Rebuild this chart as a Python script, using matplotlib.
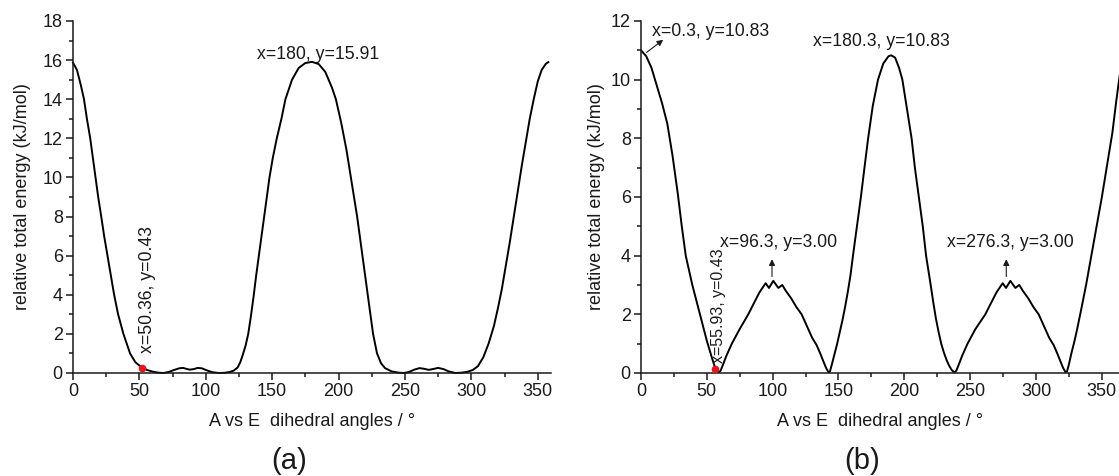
"""
Relative total energy vs A-E dihedral angle, panels (a) and (b).
"""

import matplotlib.pyplot as plt
from matplotlib.ticker import MultipleLocator

plt.rcParams['font.family'] = ['Liberation Sans', 'DejaVu Sans']

# panel (a) scan
a_angle = [0, 3, 6, 8.3, 10.5, 13, 15, 17, 19, 21.3, 23.5, 26, 28.5, 31, 34, 38, 43, 47,
           52, 56, 60, 64, 68, 72, 76, 80, 83, 86, 88, 91, 94, 97, 101, 105, 110, 114,
           118, 121, 124, 126, 128, 130, 132, 134, 136, 138, 140, 142, 144, 146, 148,
           150.5, 153.5, 157, 160, 165, 170, 175, 180, 185, 190, 195, 198, 202, 206,
           210, 214, 218, 222, 226, 229, 232, 235, 240, 245, 249, 253, 257, 261, 264,
           268, 271, 275, 279, 283, 288, 293, 297, 301, 305, 309, 313, 317, 320, 323,
           326, 329, 332, 335, 338, 341, 344, 347, 350, 353, 356, 358]
a_energy = [15.87, 15.5, 14.7, 14.0, 13.0, 12.0, 11.0, 10.0, 9.0, 8.0, 7.0, 6.0, 5.0, 4.0,
            3.0, 2.0, 1.0, 0.55, 0.27, 0.15, 0.07, 0.02, 0.0, 0.05, 0.15, 0.24, 0.26, 0.2,
            0.17, 0.2, 0.26, 0.24, 0.13, 0.04, 0.0, 0.01, 0.05, 0.12, 0.28, 0.55, 0.95,
            1.4, 2.0, 2.9, 3.9, 5.0, 6.0, 7.0, 8.0, 9.0, 10.0, 11.0, 12.0, 13.0, 14.0,
            15.0, 15.6, 15.85, 15.91, 15.8, 15.4, 14.6, 14.0, 12.8, 11.4, 9.7, 8.0, 6.0,
            4.0, 2.0, 1.0, 0.5, 0.25, 0.08, 0.02, 0.0, 0.05, 0.17, 0.25, 0.22, 0.16, 0.2,
            0.26, 0.2, 0.08, 0.0, 0.02, 0.06, 0.15, 0.35, 0.8, 1.5, 2.4, 3.3, 4.3, 5.5,
            6.7, 8.0, 9.3, 10.6, 11.8, 13.0, 14.0, 14.9, 15.5, 15.8, 15.9]
a_minimum = (52, 0.27)

# panel (b) scan
b_angle = [0, 4, 8, 12, 16, 20, 24, 28, 31, 34, 39, 44.8, 50, 54, 56, 57.5, 59, 60.5, 62,
           65, 69, 75, 81.5, 86, 90, 93, 94.7, 97.2, 100.5, 104.3, 107.3, 110, 114, 118,
           122, 126, 130, 133.4, 136, 138.5, 140.5, 142.5, 143.5, 145, 147, 149, 151,
           153, 155, 157, 159, 161, 164, 167, 170, 172.5, 176, 180, 184, 188, 190, 193,
           196, 198.5, 202, 205.5, 208, 211, 214, 216.5, 220, 222, 224, 226, 228, 230,
           232, 234, 236, 238, 239.5, 241, 244, 248, 254, 261.5, 266, 270, 273,
           274.7, 277.2, 280.5, 284.3, 287.3, 290, 294, 298, 302, 306, 310, 313.4, 316,
           318.5, 320.5, 322.5, 323.5, 325, 327, 329, 331, 334, 338, 342, 346, 350, 354,
           358, 361, 364]
b_energy = [11.0, 10.8, 10.4, 9.8, 9.2, 8.5, 7.4, 6.1, 5.0, 4.0, 3.0, 2.0, 1.1, 0.5, 0.22,
            0.08, 0.02, 0.08, 0.25, 0.6, 1.0, 1.5, 2.0, 2.4, 2.75, 2.95, 3.06, 2.9, 3.14,
            2.9, 3.0, 2.8, 2.55, 2.25, 2.0, 1.6, 1.2, 0.95, 0.68, 0.4, 0.18, 0.02, 0.05,
            0.3, 0.65, 1.0, 1.4, 1.8, 2.25, 2.75, 3.3, 4.0, 5.0, 6.0, 7.1, 8.0, 9.1, 10.0,
            10.55, 10.8, 10.83, 10.75, 10.4, 10.0, 9.0, 8.0, 7.0, 6.0, 5.0, 4.0, 3.0, 2.4,
            1.85, 1.4, 1.0, 0.7, 0.45, 0.25, 0.1, 0.02, 0.08, 0.25, 0.6, 1.0, 1.5,
            2.0, 2.4, 2.75, 2.95, 3.06, 2.9, 3.14, 2.9, 3.0, 2.8, 2.55, 2.25, 2.0, 1.6,
            1.2, 0.95, 0.68, 0.4, 0.18, 0.02, 0.05, 0.3, 0.7, 1.05, 1.45, 2.1, 3.0, 4.0,
            5.0, 6.0, 7.1, 8.2, 9.3, 10.3]
b_minimum = (56, 0.14)

X_LABEL = "A vs E  dihedral angles / °"
Y_LABEL = "relative total energy (kJ/mol)"
FS = 13
FS_NOTE = 12.7
INK = '#1a1a1a'


def style_axes(ax, ymax, ylabel_x):
    """Origin-like axes: left/bottom spines, outward major+minor ticks."""
    for side in ('top', 'right'):
        ax.spines[side].set_visible(False)
    for side in ('left', 'bottom'):
        ax.spines[side].set_linewidth(1.1)
        ax.spines[side].set_color(INK)
    ax.set_ylim(0, ymax)
    ax.xaxis.set_major_locator(MultipleLocator(50))
    ax.xaxis.set_minor_locator(MultipleLocator(25))
    ax.yaxis.set_major_locator(MultipleLocator(2))
    ax.yaxis.set_minor_locator(MultipleLocator(1))
    ax.tick_params(which='major', direction='out', length=4.8, width=1.1,
                   labelsize=FS, colors=INK, pad=2.5)
    ax.tick_params(which='minor', direction='out', length=2.6, width=1.1, colors=INK)
    ax.set_xlabel(X_LABEL, fontsize=FS, color=INK)
    ax.xaxis.set_label_coords(0.5, -0.139)
    ax.xaxis.label.set_va('center')
    ax.set_ylabel(Y_LABEL, fontsize=FS, color=INK)
    ax.yaxis.set_label_coords(ylabel_x, 0.5)
    ax.yaxis.label.set_va('center')


fig = plt.figure(figsize=(11.19, 4.76), dpi=100)
ax1 = fig.add_axes([0.0652, 0.2164, 0.4272, 0.7395])
ax2 = fig.add_axes([0.5728, 0.2164, 0.4272, 0.7395])

# (a)
ax1.plot(a_angle, a_energy, color='k', lw=1.4, clip_on=False)
ax1.plot(*a_minimum, 'o', color='#e8141c', ms=4.5, zorder=5, clip_on=False)
ax1.set_xlim(0, 360)
style_axes(ax1, 18, -0.1046)
ax1.text(184.6, 16.3, "x=180, y=15.91", fontsize=FS_NOTE, ha='center', va='center', color=INK)
ax1.text(56.5, 1.0, "x=50.36, y=0.43", fontsize=FS_NOTE, rotation=90,
         ha='center', va='bottom', color=INK)

# (b) - the right edge of this panel is cut off in the source figure
ax2.plot(b_angle, b_energy, color='k', lw=1.4)
ax2.plot(*b_minimum, 'o', color='#e8141c', ms=4.5, zorder=5, clip_on=False)
ax2.set_xlim(0, 363)
style_axes(ax2, 12, -0.092)

arrow = dict(arrowstyle='-|>', lw=0.8, color=INK, mutation_scale=9, shrinkA=0, shrinkB=0)
ax2.annotate("", xy=(16.9, 11.36), xytext=(4.3, 10.93), arrowprops=arrow)
ax2.text(8.1, 11.65, "x=0.3, y=10.83", fontsize=FS_NOTE, ha='left', va='center', color=INK)
ax2.text(182.7, 11.3, "x=180.3, y=10.83", fontsize=FS_NOTE, ha='center', va='center', color=INK)
ax2.annotate("", xy=(99.5, 3.88), xytext=(99.5, 3.29), arrowprops=arrow)
ax2.text(104.8, 4.45, "x=96.3, y=3.00", fontsize=FS_NOTE, ha='center', va='center', color=INK)
ax2.annotate("", xy=(277.4, 3.88), xytext=(277.4, 3.29), arrowprops=arrow)
ax2.text(280.6, 4.45, "x=276.3, y=3.00", fontsize=FS_NOTE, ha='center', va='center', color=INK)
ax2.text(58.8, 0.34, "x=55.93, y=0.43", fontsize=FS_NOTE - 1.2, rotation=90,
         ha='center', va='bottom', color=INK)

fig.text(0.2583, 0.0315, "(a)", fontsize=21, ha='center', va='center', color=INK)
fig.text(0.7703, 0.0315, "(b)", fontsize=21, ha='center', va='center', color=INK)

fig.savefig("out.png", dpi=100)
